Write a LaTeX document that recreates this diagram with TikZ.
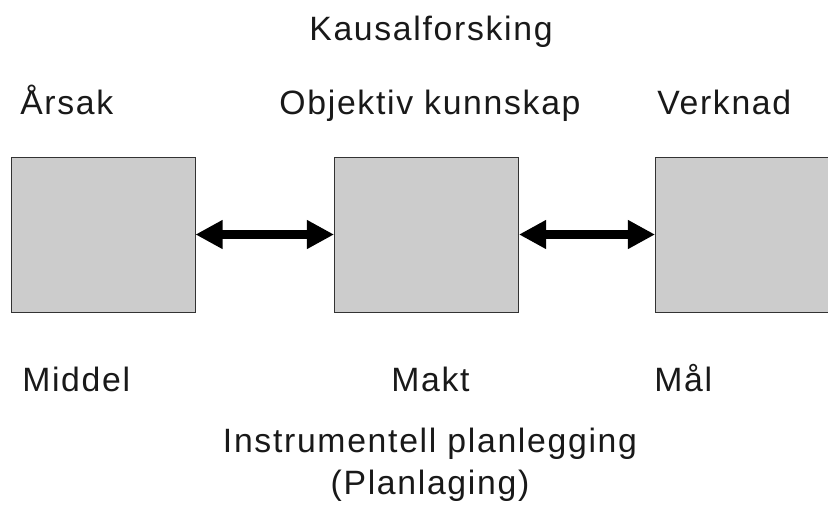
\documentclass[tikz,border=0pt]{standalone}
\usepackage{fontspec}
\setmainfont{Liberation Sans}[LetterSpace=5]
\usetikzlibrary{arrows.meta}
\tikzset{
  boks/.style={draw=black!80,fill=black!20,line width=0.6pt,minimum width=4.6cm,minimum height=3.875cm,inner sep=0pt},
  tekst/.style={inner sep=0pt,font=\fontsize{24}{29}\selectfont,text=black!90},
  pil/.style={{Triangle[length=0.68cm,width=0.68cm]}-{Triangle[length=0.68cm,width=0.68cm]},line width=6.4pt}
}
\begin{document}
\begin{tikzpicture}[x=0.025cm,y=-0.025cm]
  \clip (0,0) rectangle (828,508);
  \fill[white] (0,0) rectangle (828,508);
  % boksar
  \node[boks] (arsak) at (103,234.5) {};
  \node[boks] (kunn) at (426.5,234.5) {};
  \node[boks] (verk) at (747.5,234.5) {};
  \draw[pil] (arsak.east)--(kunn.west);
  \draw[pil] (kunn.east)--(verk.west);
  % tekst over
  \node[tekst,anchor=base] (kausal) at (431,40) {Kausalforsking};
  \node[tekst,anchor=base west] (tarsak) at (20,114) {Årsak};
  \node[tekst,anchor=base] (tkunn) at (430,114) {Objektiv kunnskap};
  \node[tekst,anchor=base west] (tverk) at (657,114) {Verknad};
  % tekst under
  \node[tekst,anchor=base west] (middel) at (22,391) {Middel};
  \node[tekst,anchor=base west] (makt) at (391,391) {Makt};
  \node[tekst,anchor=base west] (maal) at (654,391) {Mål};
  \node[tekst,anchor=base] (instr) at (430,452) {Instrumentell planlegging};
  \node[tekst,anchor=base] (plan) at (430,494) {(Planlaging)};
\end{tikzpicture}
\end{document}
